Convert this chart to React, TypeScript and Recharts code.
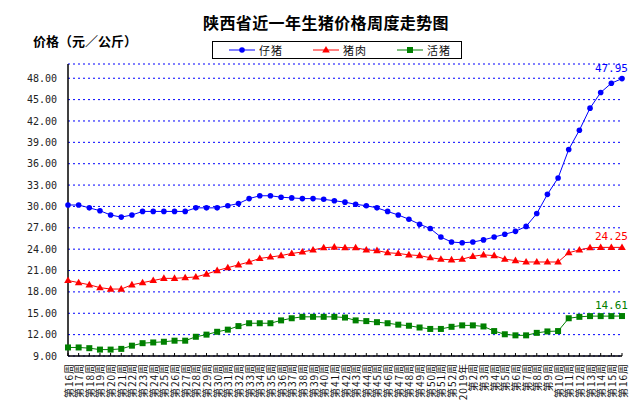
import { LineChart, Line, XAxis, YAxis, CartesianGrid, Legend } from "recharts";

// week labels, 2018 wk16 .. 2019 wk16
const weeks = [
  "第16周", "第17周", "第18周", "第19周", "第20周", "第21周", "第22周", "第23周",
  "第24周", "第25周", "第26周", "第27周", "第28周", "第29周", "第30周", "第31周",
  "第32周", "第33周", "第34周", "第35周", "第36周", "第37周", "第38周", "第39周",
  "第40周", "第41周", "第42周", "第43周", "第44周", "第45周", "第46周", "第47周",
  "第48周", "第49周", "第50周", "第51周", "第52周", "2019年", "第2周", "第3周",
  "第4周", "第5周", "第6周", "第7周", "第8周", "第9周", "第10周", "第11周",
  "第12周", "第13周", "第14周", "第15周", "第16周",
];

// 仔猪
const piglet = [
  30.2, 30.2, 29.8, 29.4, 28.8, 28.5, 28.8, 29.3, 29.3, 29.3,
  29.3, 29.3, 29.8, 29.8, 29.8, 30.1, 30.4, 31.1, 31.5, 31.5,
  31.3, 31.2, 31.1, 31.1, 31.0, 30.8, 30.6, 30.3, 30.1, 29.8,
  29.3, 28.8, 28.2, 27.5, 26.9, 25.7, 25.0, 24.9, 25.0, 25.3,
  25.7, 26.1, 26.5, 27.2, 29.0, 31.7, 34.0, 38.0, 40.7, 43.8,
  46.0, 47.3, 47.95,
];

// 猪肉
const pork = [
  19.6, 19.3, 19.0, 18.6, 18.4, 18.4, 19.0, 19.3, 19.6, 19.9,
  19.9, 20.0, 20.1, 20.5, 21.0, 21.4, 21.8, 22.2, 22.7, 22.9,
  23.1, 23.4, 23.6, 23.9, 24.2, 24.3, 24.2, 24.2, 23.9, 23.8,
  23.5, 23.4, 23.2, 23.1, 22.8, 22.6, 22.5, 22.6, 23.0, 23.2,
  23.1, 22.6, 22.4, 22.2, 22.2, 22.2, 22.2, 23.5, 23.9, 24.2,
  24.25, 24.25, 24.25,
];

// 活猪
const hog = [
  10.2, 10.2, 10.1, 9.9, 9.9, 10.0, 10.45, 10.8, 10.9, 11.0,
  11.15, 11.15, 11.7, 12.0, 12.4, 12.7, 13.2, 13.6, 13.6, 13.6,
  14.0, 14.3, 14.5, 14.5, 14.5, 14.5, 14.4, 14.0, 13.9, 13.75,
  13.6, 13.4, 13.25, 13.0, 12.8, 12.8, 13.1, 13.3, 13.3, 13.15,
  12.5, 12.05, 11.9, 11.9, 12.25, 12.45, 12.5, 14.3, 14.5, 14.6,
  14.6, 14.6, 14.61,
];

const yTicks = [9, 12, 15, 18, 21, 24, 27, 30, 33, 36, 39, 42, 45, 48];

const data = weeks.map((week, i) => ({
  week,
  piglet: piglet[i],
  pork: pork[i],
  hog: hog[i],
}));

const BLUE = "#0000FF";
const RED = "#FF0000";
const GREEN = "#008000";
const CJK = '"Noto Sans CJK SC", sans-serif';
const MONO = '"DejaVu Sans Mono", monospace';

const series = [
  { key: "piglet", name: "仔猪", color: BLUE, shape: "circle" },
  { key: "pork", name: "猪肉", color: RED, shape: "triangle" },
  { key: "hog", name: "活猪", color: GREEN, shape: "square" },
];

function marker(shape: string, cx: number, cy: number, color: string, key?: any) {
  if (shape === "triangle")
    return (
      <path key={key} d={`M${cx},${cy - 4}L${cx + 3.8},${cy + 2.6}L${cx - 3.8},${cy + 2.6}Z`} fill={color} />
    );
  if (shape === "square")
    return <rect key={key} x={cx - 3} y={cy - 3} width={6} height={6} fill={color} />;
  return <circle key={key} cx={cx} cy={cy} r={2.8} fill={color} />;
}

const shapeDot = (shape: string, color: string) => (props: any) => {
  const { cx, cy, index } = props;
  if (cx == null || cy == null) return <g key={index} />;
  return marker(shape, cx, cy, color, index);
};

const endLabel = (color: string) => (props: any) => {
  const { x, y, index, value } = props;
  if (index !== weeks.length - 1) return <g key={index} />;
  return (
    <text key={index} x={x + 6} y={y - 7} textAnchor="end" fontSize={11} fontFamily={MONO} fill={color}>
      {Number(value).toFixed(2)}
    </text>
  );
};

const WeekTick = ({ x, y, payload }: any) => (
  <g>
    <line x1={x} x2={x} y1={y} y2={y - 3} stroke="#000" />
    <text
      x={x}
      y={y + 7}
      transform={`rotate(-90 ${x} ${y + 7})`}
      textAnchor="end"
      dominantBaseline="central"
      fontSize={10}
      letterSpacing={1}
      fontFamily={CJK}
      fill="#111"
    >
      {payload.value}
    </text>
  </g>
);

const LegendBox = () => (
  <div
    style={{
      width: 250,
      height: 18,
      border: "1px solid #000",
      boxSizing: "border-box",
      position: "relative",
      background: "#fff",
    }}
  >
    {series.map((s, i) => (
      <div
        key={s.key}
        style={{
          position: "absolute",
          left: 16 + i * 84,
          top: 0,
          height: 16,
          display: "flex",
          alignItems: "center",
          fontFamily: CJK,
          fontSize: 11,
          letterSpacing: 1,
          color: "#111",
        }}
      >
        <svg width={26} height={10} style={{ marginRight: 4 }}>
          <line x1={0} x2={26} y1={5} y2={5} stroke={s.color} />
          {marker(s.shape, 13, 5, s.color)}
        </svg>
        {s.name}
      </div>
    ))}
  </div>
);

export default function App() {
  return (
    <div style={{ position: "absolute", left: 0, top: 0, width: 637, height: 404, background: "#fff" }}>
      <div
        style={{
          position: "absolute",
          left: 0,
          width: 652,
          top: 10,
          textAlign: "center",
          fontFamily: CJK,
          fontWeight: 700,
          fontSize: 16,
          letterSpacing: 0.4,
          color: "#000",
        }}
      >
        陕西省近一年生猪价格周度走势图
      </div>
      <div
        style={{
          position: "absolute",
          left: 33,
          top: 31,
          fontFamily: CJK,
          fontWeight: 700,
          fontSize: 13,
          color: "#000",
        }}
      >
        价格（元／公斤）
      </div>
      <LineChart width={637} height={404} data={data} margin={{ top: 64, right: 15, bottom: 0, left: 0 }}>
        <CartesianGrid vertical={false} stroke={BLUE} strokeDasharray="2 3" />
        <XAxis
          dataKey="week"
          interval={0}
          height={48}
          tickLine={false}
          tickSize={0}
          tickMargin={0}
          axisLine={{ stroke: "#000", strokeWidth: 1.5 }}
          tick={<WeekTick />}
        />
        <YAxis
          domain={[9, 50]}
          ticks={yTicks}
          interval={0}
          width={68}
          tickLine={false}
          tickSize={0}
          tickMargin={11}
          axisLine={{ stroke: "#000", strokeWidth: 1.5 }}
          tickFormatter={(v: number) => v.toFixed(2)}
          tick={{ fontSize: 10, fontFamily: MONO, fill: "#222" }}
        />
        <Legend
          layout="horizontal"
          verticalAlign="middle"
          align="center"
          wrapperStyle={{ top: 41, left: 212, width: 250, height: 18 }}
          content={() => <LegendBox />}
        />
        {series.map((s) => (
          <Line
            key={s.key}
            type="linear"
            dataKey={s.key}
            name={s.name}
            stroke={s.color}
            strokeWidth={1}
            dot={shapeDot(s.shape, s.color)}
            activeDot={false}
            label={endLabel(s.color)}
            isAnimationActive={false}
          />
        ))}
      </LineChart>
    </div>
  );
}
